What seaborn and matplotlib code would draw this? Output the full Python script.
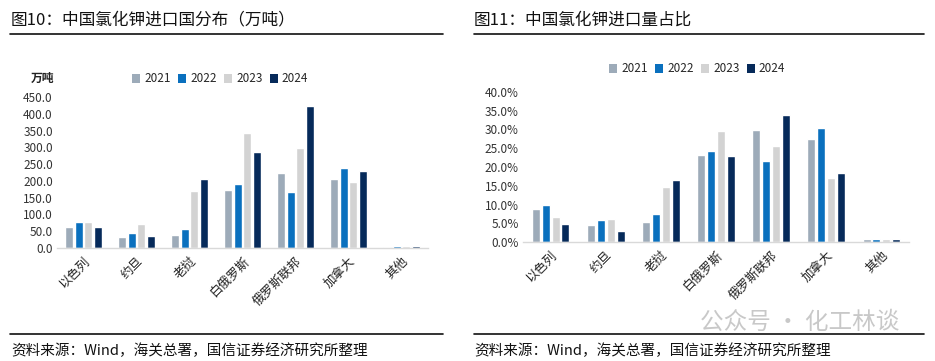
import matplotlib
matplotlib.use("Agg")
import matplotlib.pyplot as plt
import seaborn as sns
import pandas as pd
from matplotlib.lines import Line2D
from matplotlib.patches import Patch

sns.set_theme(style="white")
plt.rcParams['font.family'] = ['Noto Sans CJK SC', 'DejaVu Sans']

countries = ["以色列", "约旦", "老挝", "白俄罗斯", "俄罗斯联邦", "加拿大", "其他"]
years = ["2021", "2022", "2023", "2024"]

vol_2021 = [64, 34, 40, 173, 225, 205, 4]
vol_2022 = [76, 44, 57, 190, 168, 237, 6]
vol_2023 = [76, 71, 170, 343, 299, 196, 7]
vol_2024 = [62, 35, 205, 287, 422, 229, 7]

pct_2021 = [8.7, 4.6, 5.4, 23.2, 29.9, 27.5, 0.7]
pct_2022 = [9.9, 5.9, 7.6, 24.3, 21.6, 30.4, 0.8]
pct_2023 = [6.6, 6.1, 14.6, 29.5, 25.7, 17.0, 0.7]
pct_2024 = [4.9, 2.9, 16.5, 23.0, 33.8, 18.4, 0.7]

colors = ["#9DABB9", "#0A70BE", "#D3D3D3", "#062A5A"]

def long_df(series):
    rows = []
    for y, vals in zip(years, series):
        for c, v in zip(countries, vals):
            rows.append({"country": c, "year": y, "value": v})
    return pd.DataFrame(rows)

df_vol = long_df([vol_2021, vol_2022, vol_2023, vol_2024])
df_pct = long_df([pct_2021, pct_2022, pct_2023, pct_2024])

W, H = 935, 361
fig = plt.figure(figsize=(W / 100, H / 100), dpi=100)

def fx(x): return x / W
def fy(y): return 1 - y / H

def panel(ax, df, ymax, step, fmt):
    sns.barplot(data=df, x="country", y="value", hue="year", palette=colors,
                order=countries, hue_order=years, width=0.72, gap=0.2,
                ax=ax, legend=False, saturation=1)
    ax.set_ylim(0, ymax)
    ax.set_xlim(-0.5, len(countries) - 0.5)
    ticks = [i * step for i in range(int(round(ymax / step)) + 1)]
    ax.set_yticks(ticks)
    ax.set_yticklabels([fmt(t) for t in ticks], fontsize=8.5, color="#333333")
    ax.set_xticks(range(len(countries)))
    ax.set_xticklabels(countries, rotation=45, ha="right", rotation_mode="anchor",
                       fontsize=9, color="#222222")
    ax.set_xlabel("")
    ax.set_ylabel("")
    for s in ["top", "right", "left"]:
        ax.spines[s].set_visible(False)
    ax.spines["bottom"].set_color("#D9D9D9")
    ax.spines["bottom"].set_linewidth(1.0)
    ax.tick_params(axis="both", length=0, pad=3)
    ax.tick_params(axis="x", pad=5)
    ax.grid(False)

# Left panel
ax1 = fig.add_axes([fx(57), fy(248), fx(428 - 57), (248 - 97) / H])
panel(ax1, df_vol, 450, 50, lambda t: f"{t:.1f}")

# Right panel
ax2 = fig.add_axes([fx(523), fy(242), fx(909 - 523), (242 - 92) / H])
panel(ax2, df_pct, 40, 5, lambda t: f"{t:.1f}%")

# Legends
handles = [Patch(facecolor=c, edgecolor="none") for c in colors]
fig.legend(handles, years, loc="center", bbox_to_anchor=(fx(220), fy(79)), ncol=4,
           frameon=False, fontsize=8.5, handlelength=0.7, handleheight=0.7,
           handletextpad=0.35, columnspacing=0.6)
fig.legend(handles, years, loc="center", bbox_to_anchor=(fx(697), fy(69)), ncol=4,
           frameon=False, fontsize=8.5, handlelength=0.7, handleheight=0.7,
           handletextpad=0.35, columnspacing=0.6)

# Unit label
fig.text(fx(43), fy(78), "万吨", fontsize=8.5, fontweight="bold", ha="center",
         va="center", color="#222222")

# Titles
fig.text(fx(11), fy(20), "图10：中国氯化钾进口国分布（万吨）", fontsize=12,
         ha="left", va="center", color="#111111")
fig.text(fx(474), fy(20), "图11：中国氯化钾进口量占比", fontsize=12,
         ha="left", va="center", color="#111111")

# Header rules
fig.add_artist(Line2D([fx(10), fx(443)], [fy(34), fy(34)], color="#111111", lw=1.2))
fig.add_artist(Line2D([fx(474), fx(924)], [fy(34), fy(34)], color="#111111", lw=1.2))
# Footer rules
fig.add_artist(Line2D([fx(10), fx(443)], [fy(334), fy(334)], color="#111111", lw=1.2))
fig.add_artist(Line2D([fx(474), fx(924)], [fy(334), fy(334)], color="#111111", lw=1.2))

# Sources
src = "资料来源：Wind，海关总署，国信证券经济研究所整理"
fig.text(fx(11), fy(351), src, fontsize=10.5, ha="left", va="center", color="#111111")
fig.text(fx(474), fy(351), src, fontsize=10.5, ha="left", va="center", color="#111111")

# Watermark
fig.text(fx(700), fy(322), "公众号 · 化工林谈", fontsize=17, ha="left", va="center",
         color="#BBBBBB", alpha=0.8)

fig.savefig("out.png", dpi=100)
